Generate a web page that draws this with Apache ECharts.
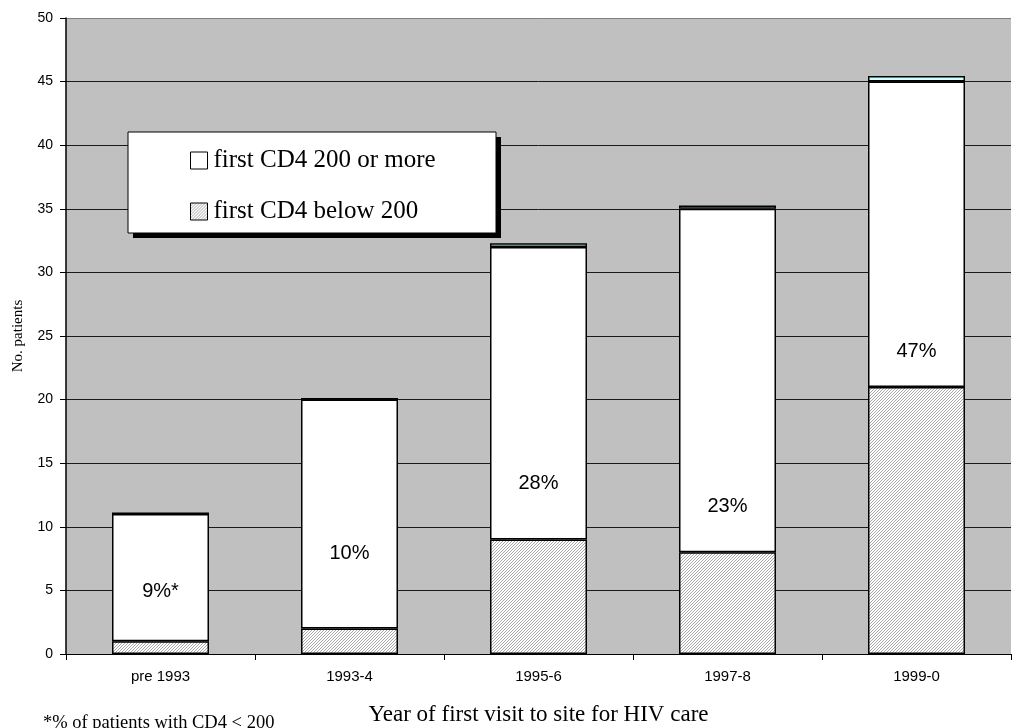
<!DOCTYPE html>
<html>
<head>
<meta charset="utf-8">
<script src="https://cdn.jsdelivr.net/npm/echarts@6/dist/echarts.min.js"></script>
<style>
  html, body { margin: 0; padding: 0; background: #ffffff; }
  #chart { width: 1022px; height: 728px; }
</style>
</head>
<body>
<div id="chart"></div>
<script>
// Patients by year of first visit, split by first CD4 count
const categories = ['pre 1993', '1993-4', '1995-6', '1997-8', '1999-0'];
const cd4Below200 = [1, 2, 9, 8, 21];
const cd4Above200 = [10, 18, 23, 27, 24];
const cd4Unknown = [0.12, 0.12, 0.3, 0.25, 0.45];
// vertical placement of the percentage text inside each bar
const pctLabelY = [4.9, 7.9, 13.4, 11.6, 23.8];
const pctSuffix = ['*', '', '', '', ''];
const yTicks = { min: 0, max: 50, interval: 5 };

// share of patients with CD4 < 200, rounded to whole percent
const pctText = cd4Below200.map((b, i) =>
  Math.round(b / (b + cd4Above200[i]) * 100) + '%' + pctSuffix[i]);

// fine diagonal hatch used for the "below 200" fill
function hatchPattern() {
  const c = document.createElement('canvas');
  c.width = 3; c.height = 3;
  const ctx = c.getContext('2d');
  ctx.fillStyle = '#ffffff';
  ctx.fillRect(0, 0, 3, 3);
  ctx.fillStyle = '#a8a8a8';
  for (let i = 0; i < 3; i++) ctx.fillRect(i, 2 - i, 1, 1);
  return c;
}
const hatch = { image: hatchPattern(), repeat: 'repeat' };

// gridlines are dark, the top edge of the plot is a lighter grey
const gridLineColors = ['#1a1a1a', '#1a1a1a', '#1a1a1a', '#1a1a1a', '#1a1a1a', '#1a1a1a',
                        '#1a1a1a', '#1a1a1a', '#1a1a1a', '#1a1a1a', '#808080'];

const serif = '"Liberation Serif", "Times New Roman", serif';
const sans = '"Liberation Sans", Arial, sans-serif';

const chart = echarts.init(document.getElementById('chart'), null, { renderer: 'canvas' });

chart.setOption({
  animation: false,
  backgroundColor: '#ffffff',
  grid: { left: 66, right: 11, top: 18, bottom: 74, show: true,
          outerBoundsMode: 'none', containLabel: false,
          backgroundColor: '#c0c0c0', borderWidth: 0 },
  legend: {
    data: ['first CD4 200 or more', 'first CD4 below 200'],
    orient: 'vertical',
    left: 190, top: 148,
    padding: 0,
    itemGap: 26,
    itemWidth: 17, itemHeight: 17,
    icon: 'rect',
    z: 20,
    itemStyle: { borderColor: '#000000', borderWidth: 1 },
    textStyle: { fontFamily: serif, fontSize: 25, color: '#000000', padding: [0, 0, 0, 1] },
    selectedMode: false
  },
  xAxis: {
    type: 'category',
    data: categories,
    boundaryGap: true,
    name: 'Year of first visit to site for HIV care',
    nameLocation: 'middle',
    nameGap: 49,
    nameTextStyle: { fontFamily: serif, fontSize: 23, color: '#000000' },
    axisLine: { lineStyle: { color: '#000000', width: 1 } },
    axisTick: { show: true, length: 6, alignWithLabel: false, lineStyle: { color: '#000000' } },
    axisLabel: { fontFamily: sans, fontSize: 15, color: '#000000', margin: 15 },
    splitLine: { show: false }
  },
  yAxis: {
    type: 'value',
    min: yTicks.min, max: yTicks.max, interval: yTicks.interval,
    name: 'No. patients',
    nameLocation: 'middle',
    nameGap: 40,
    nameTextStyle: { fontFamily: serif, fontSize: 15, color: '#000000' },
    axisLine: { show: true, lineStyle: { color: '#000000', width: 1.5 } },
    axisTick: { show: true, length: 6, lineStyle: { color: '#000000' } },
    axisLabel: { fontFamily: sans, fontSize: 14, color: '#000000', margin: 13 },
    splitLine: { show: true, lineStyle: { color: gridLineColors, width: 1 } }
  },
  series: [
    {
      name: 'first CD4 below 200',
      type: 'bar',
      stack: 'patients',
      barWidth: 97,
      data: cd4Below200,
      itemStyle: { color: hatch, borderColor: '#000000', borderWidth: 1.5 }
    },
    {
      name: 'first CD4 200 or more',
      type: 'bar',
      stack: 'patients',
      data: cd4Above200,
      itemStyle: { color: '#ffffff', borderColor: '#000000', borderWidth: 1.5 }
    },
    {
      name: 'CD4 unknown',
      type: 'bar',
      stack: 'patients',
      data: cd4Unknown,
      itemStyle: { color: '#ccffff', borderColor: '#000000', borderWidth: 1.5 }
    },
    {
      name: 'pct',
      type: 'scatter',
      symbol: 'circle',
      symbolSize: 1,
      itemStyle: { color: 'rgba(0,0,0,0)' },
      silent: true,
      data: pctLabelY.map((y, i) => [i, y]),
      label: {
        show: true,
        position: 'inside',
        formatter: p => pctText[p.dataIndex],
        fontFamily: sans, fontSize: 20, color: '#000000', opacity: 1
      },
      z: 10
    }
  ],
  graphic: [
    {
      type: 'rect',
      z: 14,
      shape: { x: 133, y: 137, width: 368, height: 101 },
      style: { fill: '#000000' }
    },
    {
      type: 'rect',
      z: 15,
      shape: { x: 128, y: 132, width: 368, height: 101 },
      style: { fill: '#ffffff', stroke: '#000000', lineWidth: 1 }
    },
    {
      type: 'text',
      left: 43, top: 714,
      style: { text: '*% of patients with CD4 < 200', font: '18.5px ' + serif, fill: '#000000' }
    }
  ]
});
</script>
</body>
</html>
